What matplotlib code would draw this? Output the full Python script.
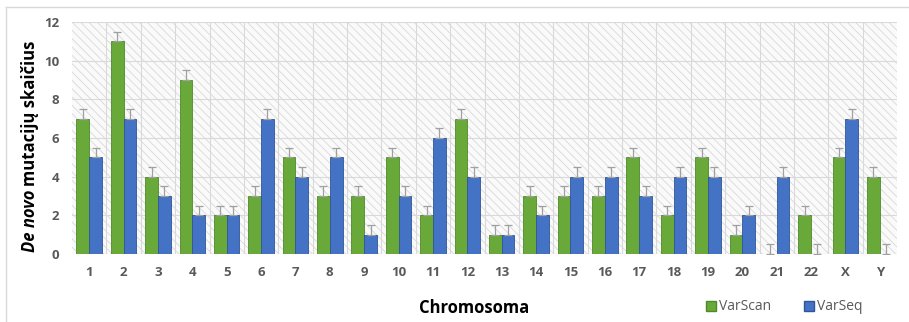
import matplotlib
matplotlib.use("Agg")
import matplotlib.pyplot as plt
from matplotlib.patches import Rectangle
from matplotlib.lines import Line2D

chromosomes = [str(i) for i in range(1, 23)] + ["X", "Y"]
varscan = [7, 11, 4, 9, 2, 3, 5, 3, 3, 5, 2, 7, 1, 3, 3, 3, 5, 2, 5, 1, 0, 2, 5, 4]
varseq = [5, 7, 3, 2, 2, 7, 4, 5, 1, 3, 6, 4, 1, 2, 4, 4, 3, 4, 4, 2, 4, 0, 7, 0]
err = 0.5

plt.rcParams["font.family"] = ["Open Sans", "DejaVu Sans"]
plt.rcParams["hatch.color"] = "#d8d8d8"
plt.rcParams["hatch.linewidth"] = 0.6

fig = plt.figure(figsize=(9.09, 3.22), dpi=100)
ax = fig.add_axes([72 / 909, 1 - 254 / 322, 825 / 909, 232 / 322])

green, green_edge = "#68a93a", "#4e8a2a"
blue, blue_edge = "#4472c4", "#2f5597"
w = 0.37
x = list(range(len(chromosomes)))
ekw = dict(ecolor="#a0a0a0", elinewidth=0.9, capsize=3, capthick=0.9)

ax.bar([i - w / 2 for i in x], varscan, w, color=green, edgecolor=green_edge,
       linewidth=0.6, yerr=[[0] * len(x), [err] * len(x)], error_kw=ekw, zorder=3)
ax.bar([i + w / 2 for i in x], varseq, w, color=blue, edgecolor=blue_edge,
       linewidth=0.6, yerr=[[0] * len(x), [err] * len(x)], error_kw=ekw, zorder=3)

# hatched plot background
ax.add_patch(Rectangle((0, 0), 1, 1, transform=ax.transAxes, facecolor="#fafafa",
                       edgecolor="#d8d8d8", hatch="\\\\\\\\", linewidth=0, zorder=0))

ax.set_xlim(-0.5, len(x) - 0.5)
ax.set_ylim(0, 12)
ax.set_yticks(range(0, 13, 2))
ax.set_xticks(x)
ax.set_xticklabels(chromosomes)
for i in range(len(x) - 1):
    ax.axvline(i + 0.5, color="#d9d9d9", lw=0.8, zorder=1)
for v in range(2, 13, 2):
    ax.axhline(v, color="#d9d9d9", lw=0.8, zorder=1)
ax.axhline(0, color="#d0d0d0", lw=0.8, zorder=2)
for s in ax.spines.values():
    s.set_visible(False)
ax.tick_params(length=0, labelsize=9.5, labelcolor="#595959", pad=9)
for lab in ax.get_xticklabels() + ax.get_yticklabels():
    lab.set_fontweight("bold")

fig.text(474 / 909, 1 - 308 / 322, "Chromosoma", ha="center", va="center",
         fontsize=12, fontweight="bold", color="black")

# y label with italic "De novo"
fig.canvas.draw()
r = fig.canvas.get_renderer()
t1 = fig.text(30 / 909, 1 - 252 / 322, "De novo", rotation=90, ha="center",
              va="bottom", fontsize=12, fontweight="bold", style="italic")
bb = t1.get_window_extent(r)
fig.text(30 / 909, bb.y1 / fig.bbox.height + 0.012, "mutacijų skaičius", rotation=90,
         ha="center", va="bottom", fontsize=12, fontweight="bold")

handles = [Line2D([], [], marker="s", ls="", ms=7, mfc=green, mec=green_edge),
           Line2D([], [], marker="s", ls="", ms=7, mfc=blue, mec=blue_edge)]
leg = fig.legend(handles, ["VarScan", "VarSeq"], loc="center",
                 bbox_to_anchor=(783 / 909, 1 - 307 / 322), ncol=2, frameon=False,
                 fontsize=10, handletextpad=0.1, columnspacing=2.2, handlelength=1)
for t in leg.get_texts():
    t.set_color("#595959")

# outer chart frame
fig.add_artist(Line2D([6 / 909, 1], [1 - 7 / 322] * 2, color="#d9d9d9", lw=1))
fig.add_artist(Line2D([6 / 909] * 2, [0, 1 - 7 / 322], color="#d9d9d9", lw=1))

fig.savefig("out.png", dpi=100)
